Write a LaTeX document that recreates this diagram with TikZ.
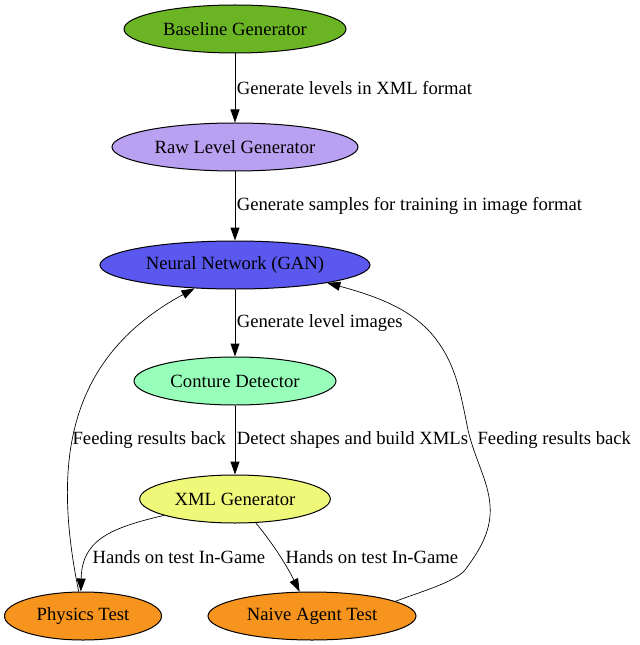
\documentclass[tikz,border=0pt]{standalone}
\usepackage{fontspec}
\setmainfont{Liberation Serif}
\usetikzlibrary{arrows.meta,positioning,shapes.geometric}
\definecolor{qGreen}{RGB}{107, 181, 36}
\definecolor{qPurple}{RGB}{185, 160, 240}
\definecolor{qBlue}{RGB}{91, 88, 240}
\definecolor{qMint}{RGB}{152, 255, 187}
\definecolor{qYellow}{RGB}{240, 248, 122}
\definecolor{qOrange}{RGB}{247, 148, 30}

\begin{document}
\begin{tikzpicture}[
    x=0.75pt, y=-0.75pt,
    font=\fontsize{14pt}{16pt}\selectfont,
    % Ellipse node style
    stage/.style={
        ellipse,
        draw=black,
        line width=0.75pt,
        inner sep=0pt,
        minimum height=36pt
    },
    % Edge style
    flow/.style={
        -{Triangle[length=9.75pt, width=6.75pt]},
        line width=0.75pt
    },
    % Edge label style
    lbl/.style={
        anchor=west,
        inner sep=1pt
    }
]
    \useasboundingbox (0,0) rectangle (639,645);

    % --- Nodes ---
    \node[stage, fill=qGreen, minimum width=166.5pt] (base) at (235,29) {Baseline Generator};
    \node[stage, fill=qPurple, minimum width=184.5pt] (raw) at (235,147) {Raw Level Generator};
    \node[stage, fill=qBlue, minimum width=202.5pt] (gan) at (235,265) {Neural Network (GAN)};
    \node[stage, fill=qMint, minimum width=151.5pt] (conture) at (235,381) {Conture Detector};
    \node[stage, fill=qYellow, minimum width=143pt] (xml) at (235,499) {XML Generator};
    \node[stage, fill=qOrange, minimum width=117.75pt] (phys) at (83,616) {Physics Test};
    \node[stage, fill=qOrange, minimum width=156pt] (naive) at (312,616) {Naive Agent Test};

    % --- Main pipeline ---
    \draw[flow] (base) -- node[lbl] (l1) {Generate levels in XML format} (raw);
    \draw[flow] (raw) -- node[lbl] (l2) {Generate samples for training in image format} (gan);
    \draw[flow] (gan) -- node[lbl] (l3) {Generate level images} (conture);
    \draw[flow] (conture) -- node[lbl] (l4) {Detect shapes and build XMLs} (xml);

    % --- Tests ---
    \draw[flow, line width=0.5pt] (xml.193) .. controls (110,528) and (82,540) .. (phys.95);
    \node[lbl] (l5) at (91,557) {Hands on test In-Game};
    \draw[flow, line width=0.5pt] (xml.311) .. controls (270,540) and (285,562) .. (naive.117);
    \node[lbl] (l6) at (284,557) {Hands on test In-Game};

    % --- Feedback loops ---
    \draw[flow, line width=0.5pt] (phys.100) .. controls (54,470) and (62,360) .. (gan.210);
    \node[lbl] (l7) at (71,440) {Feeding results back};
    \draw[flow, line width=0.5pt] (naive.10.5) .. controls (420,592) and (455,582) .. (465,570)
        .. controls (480,550) and (492,530) .. (490,505)
        .. controls (488,480) and (475,460) .. (468,430)
        .. controls (460,390) and (455,360) .. (430,332)
        .. controls (410,310) and (380,297) .. (gan.349.5);
    \node[lbl] (l8) at (476,440) {Feeding results back};

\end{tikzpicture}
\end{document}
